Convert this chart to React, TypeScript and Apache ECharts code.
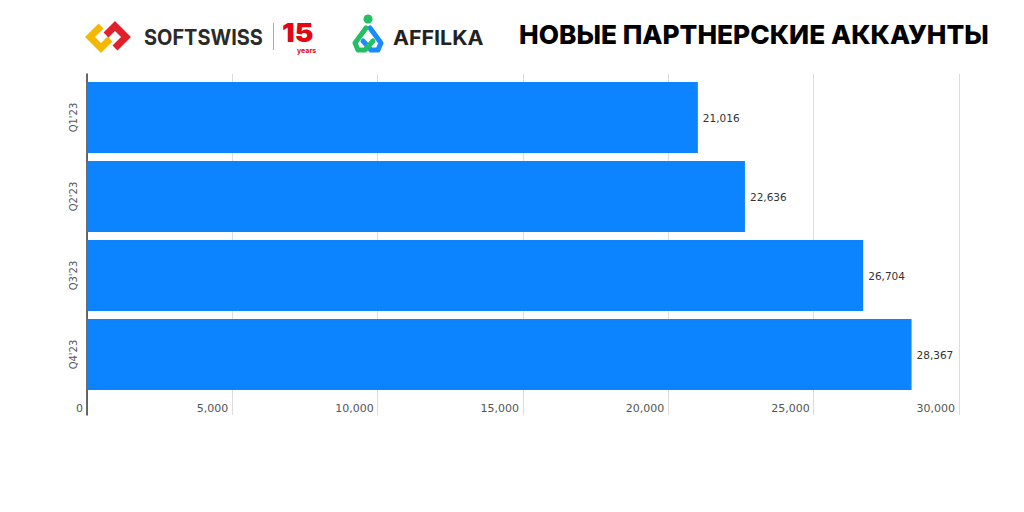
import React, { useEffect, useRef } from "react";
import * as echarts from "echarts";

const categories = ["Q1'23", "Q2'23", "Q3'23", "Q4'23"];
const accounts = [21016, 22636, 26704, 28367];
const xMin = 0;
const xMax = 30000;
const xInterval = 5000;
const titleText = "НОВЫЕ ПАРТНЕРСКИЕ АККАУНТЫ";

const fmt = (v: number) => v.toLocaleString("en-US");

export default function App() {
  const ref = useRef<HTMLDivElement>(null);
  useEffect(() => {
    if (!ref.current) return;
    const chart = echarts.init(ref.current, undefined, { renderer: "svg" });
    const labelFont = "'DejaVu Sans', sans-serif";
    const option: any = {
      animation: false,
      backgroundColor: "#ffffff",
      grid: [
        { left: 87, right: 65, top: 74, bottom: 97 },
        { left: 87, right: 65, top: 78, bottom: 118 },
      ],
      xAxis: [
        {
          type: "value",
          gridIndex: 0,
          min: xMin,
          max: xMax,
          interval: xInterval,
          axisLine: { show: false },
          axisTick: { show: false },
          splitLine: { show: true, lineStyle: { color: "#dcdcdc", width: 1 } },
          axisLabel: {
            inside: true,
            margin: 7,
            align: "right",
            verticalAlign: "middle",
            padding: [0, 4, 0, 0],
            color: "#555",
            fontSize: 11,
            fontFamily: labelFont,
            formatter: (v: number) => fmt(v),
          },
        },
        {
          type: "value",
          gridIndex: 1,
          min: xMin,
          max: xMax,
          interval: xInterval,
          show: false,
        },
      ],
      yAxis: [
        {
          type: "value",
          gridIndex: 0,
          axisLine: { show: true, onZero: false, lineStyle: { color: "#3a3a3a", width: 1.5 } },
          axisTick: { show: false },
          axisLabel: { show: false },
          splitLine: { show: false },
        },
        {
          type: "category",
          gridIndex: 1,
          inverse: true,
          data: categories,
          axisLine: { show: false },
          axisTick: { show: false },
          axisLabel: {
            rotate: 90,
            margin: 9,
            color: "#555",
            fontSize: 10,
            fontFamily: labelFont,
          },
        },
      ],
      series: [
        {
          type: "bar",
          xAxisIndex: 1,
          yAxisIndex: 1,
          data: accounts,
          barCategoryGap: "10%",
          itemStyle: { color: "#0d84ff" },
          label: {
            show: true,
            position: "right",
            distance: 5,
            color: "#333",
            fontSize: 10.5,
            fontFamily: labelFont,
            formatter: (p: any) => fmt(p.value),
          },
        },
      ],
      graphic: [
        // SOFTSWISS icon
        {
          type: "polyline",
          shape: { points: [[101, 26], [90, 37], [101, 48], [110, 39]] },
          style: { stroke: "#f5b800", lineWidth: 7, fill: null, lineJoin: "miter" },
        },
        {
          type: "polyline",
          shape: { points: [[115, 48], [126, 37], [115, 26], [106, 35]] },
          style: { stroke: "#e0202a", lineWidth: 7, fill: null, lineJoin: "miter" },
        },
        {
          type: "text",
          x: 144,
          y: 37,
          scaleX: 0.95,
          style: {
            text: "SOFTSWISS",
            fill: "#2a2a2a",
            fontSize: 21,
            fontWeight: "bold",
            fontFamily: "Inter, sans-serif",
            align: "left",
            verticalAlign: "middle",
            textAlign: "left",
            textVerticalAlign: "middle",
          },
        },
        {
          type: "line",
          shape: { x1: 273.5, y1: 23, x2: 273.5, y2: 50 },
          style: { stroke: "#aaaaaa", lineWidth: 1 },
        },
        {
          type: "text",
          x: 282,
          y: 32.5,
          scaleX: 1.08,
          style: {
            text: "15",
            fill: "#e30613",
            fontSize: 26,
            lineHeight: 24,
            fontWeight: 900,
            fontFamily: "Inter, sans-serif",
            align: "left",
            verticalAlign: "middle",
            textAlign: "left",
            textVerticalAlign: "middle",
          },
        },
        {
          type: "text",
          x: 297,
          y: 50.5,
          style: {
            text: "years",
            fill: "#e30613",
            fontSize: 7,
            lineHeight: 7,
            fontWeight: "bold",
            fontFamily: "Inter, sans-serif",
            align: "left",
            verticalAlign: "middle",
            textAlign: "left",
            textVerticalAlign: "middle",
          },
        },
        // AFFILKA icon
        {
          type: "circle",
          shape: { cx: 368, cy: 19, r: 4.5 },
          style: { fill: "#22c063" },
        },
        {
          type: "polyline",
          shape: { points: [[370, 28], [381, 43], [378, 50], [371, 50], [363, 41]] },
          style: { stroke: "#1a8cff", lineWidth: 5, fill: null, lineJoin: "round", lineCap: "round" },
        },
        {
          type: "polyline",
          shape: { points: [[366, 28], [355, 43], [358, 50], [365, 50], [373, 41]] },
          style: { stroke: "#22c063", lineWidth: 5, fill: null, lineJoin: "round", lineCap: "round" },
        },
        {
          type: "text",
          x: 393,
          y: 38,
          scaleX: 1.07,
          style: {
            text: "AFFILKA",
            fill: "#222",
            fontSize: 20,
            fontWeight: "bold",
            fontFamily: "Inter, sans-serif",
            align: "left",
            verticalAlign: "middle",
            textAlign: "left",
            textVerticalAlign: "middle",
          },
        },
        // Title
        {
          type: "text",
          x: 519,
          y: 35,
          scaleX: 1.01,
          style: {
            text: titleText,
            fill: "#000",
            fontSize: 26,
            fontWeight: 800,
            fontFamily: "Inter, sans-serif",
            align: "left",
            verticalAlign: "middle",
            textAlign: "left",
            textVerticalAlign: "middle",
          },
        },
      ],
    };
    chart.setOption(option);
    return () => chart.dispose();
  }, []);
  return (
    <div
      ref={ref}
      style={{ position: "fixed", left: 0, top: 0, width: 1024, height: 512 }}
    />
  );
}
